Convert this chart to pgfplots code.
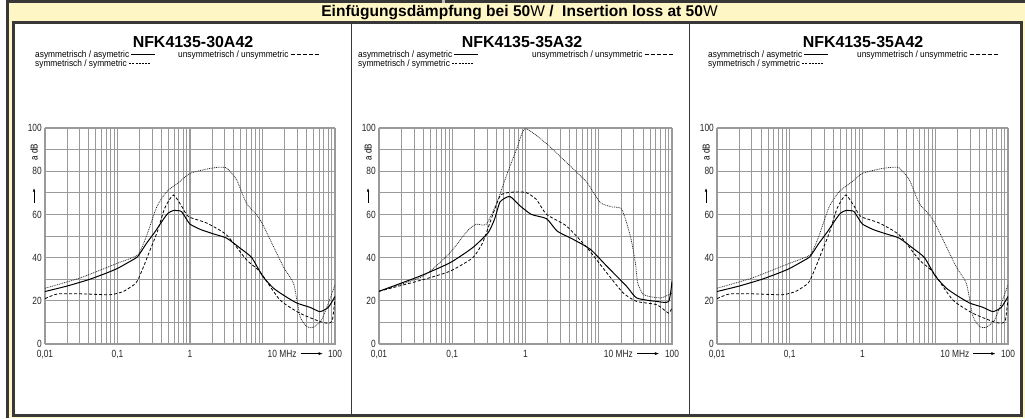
\documentclass[border=0pt]{standalone}
\usepackage{fontspec}
\setmainfont{Liberation Sans}
\newfontfamily\narrow[FakeStretch=0.8]{Liberation Sans}
\newfontfamily\semnarrow[FakeStretch=0.9]{Liberation Sans}
\usepackage{pgfplots}
\pgfplotsset{compat=1.18}
\usepackage{pgfplotstable}
\usetikzlibrary{arrows.meta}

\definecolor{frame}{HTML}{383838}
\definecolor{band}{HTML}{FFF6C6}
\definecolor{gridgray}{HTML}{9A9A9A}

% panel 1 and 3 (same filter curves)
\pgfplotstableread{
f a
0.01 24.3
0.02 26.8
0.04 29.8
0.07 32.8
0.1 35
0.15 38.3
0.19 40.5
0.25 46.5
0.33 52
0.43 57.8
0.5 60.6
0.59 61.8
0.75 61.5
0.85 59
1.0 55.5
1.4 53
2.1 51
3.2 49
4.9 44.4
7.1 40
10 31.5
14 26
19.3 22.7
29.5 19
45 17
62 15
81 17
100 22
}\asymA
\pgfplotstableread{
f a
0.01 21
0.015 23.2
0.034 23.2
0.079 22.8
0.12 24.3
0.17 27.5
0.19 29.5
0.23 36
0.27 42
0.35 51.5
0.45 63
0.59 69
0.77 63.7
0.95 59
1.7 56
3.2 50.5
6 39
9.2 33.5
17.4 20.4
33 14.2
62 10.4
81 9.6
92 11
100 21
}\unsymA
\pgfplotstableread{
f a
0.01 25.8
0.03 30.5
0.1 37.4
0.19 41.3
0.25 49.8
0.35 63.7
0.48 70.6
0.73 75.3
1.0 79
1.7 81
2.5 81.8
3.2 81.5
4.4 76
6 65.2
8.3 59.8
10.2 55
19.3 35.9
26.8 28
33 12.7
41 8
50 7.7
65 11
81 18.9
100 27.4
}\symA
% panel 2
\pgfplotstableread{
f a
0.01 24.4
0.036 31.4
0.093 37.6
0.19 44.6
0.31 51.6
0.38 58
0.45 65.8
0.61 68.3
0.84 64
1.2 60
1.94 58
2.7 52.3
4.5 48.4
7.7 43.8
12.9 36
24 26.7
33 21.3
62 19.7
90 19.7
100 29
}\asymB
\pgfplotstableread{
f a
0.01 24.4
0.04 29.8
0.093 33.7
0.19 39.9
0.26 46.9
0.34 57.8
0.45 68.6
0.61 70.2
1.0 70.2
1.4 67
1.94 60
3.6 54.7
6.9 44.6
12.9 32.9
21.6 23.6
33 19.7
62 18.2
90 14.3
100 17
}\unsymB
\pgfplotstableread{
f a
0.01 24.4
0.04 31.4
0.093 42.2
0.16 52.3
0.21 55.4
0.29 55.4
0.4 64.8
0.55 78
0.76 90.4
0.99 99.7
1.94 92.7
4.5 81
6.9 74.8
10.5 65.5
15 63.5
20.6 62.4
27 50
31.6 37.6
34 28.3
41 22.8
69 21.3
90 22.8
100 23.6
}\symB

\newcommand\leg{\semnarrow\fontsize{9.3}{10}\selectfont}
\newcommand\tickfont{\narrow\fontsize{10.5}{11}\selectfont}

\pgfplotsset{/pgf/number format/assume math mode=true}
\pgfplotsset{
  every axis/.append style={
    scale only axis, anchor=south west, height=216bp,
    xmin=0.01, xmax=100, ymin=0, ymax=100,
    xtick={0.01,0.1,1,10,100},
    xticklabels={{0,01},{0,1},1,,100},
    minor xtick={0.02,0.03,0.04,0.05,0.06,0.07,0.08,0.09,0.2,0.3,0.4,0.5,0.6,0.7,0.8,0.9,2,3,4,5,6,7,8,9,20,30,40,50,60,70,80,90},
    ytick={0,20,40,60,80,100},
    minor ytick={10,30,50,70,90},
    grid=both,
    major grid style={gridgray, line width=1.2bp},
    minor grid style={gridgray, line width=0.6bp},
    axis line style={gridgray, line width=0.8bp},
    tick style={draw=none},
    tick label style={font=\tickfont, text=black!85},
    xticklabel style={anchor=base, yshift=-13bp, inner sep=0pt},
    yticklabel style={anchor=east, xshift=-3bp, inner sep=0pt},
  },
}
\tikzset{
  curveasym/.style={black, line width=1bp, smooth, tension=0.35},
  curveunsym/.style={black, line width=0.8bp, dash pattern=on 3bp off 2bp, smooth, tension=0.35},
  curvesym/.style={black!85, line width=0.75bp, dash pattern=on 0.9bp off 0.9bp, smooth, tension=0.35},
}

\begin{document}
\begin{tikzpicture}
\begin{scope}[x=1bp,y=1bp]
\path[use as bounding box] (0,0) rectangle (1025,418);
\fill[white] (0,0) rectangle (1025,418);
\fill[band] (9,0) rectangle (1025,415);
\fill[frame] (6,415) rectangle (1025,418);
\fill[black!25] (442,415) rectangle (445,418);
\fill[frame] (6,0) rectangle (9,418);
\filldraw[fill=white, draw=frame, line width=3bp] (13.5,2.5) rectangle (1021,395.7);
\draw[frame, line width=1.5bp] (351.5,2.5) -- (351.5,395.7);
\draw[frame, line width=1.5bp] (689.5,2.5) -- (689.5,395.7);

\node[anchor=base, inner sep=0pt, font=\fontsize{15.6}{16}\selectfont\bfseries]
  at (519.5,401.5) {Einfügungsdämpfung bei 50{\mdseries W}\ /\ \ Insertion loss at 50{\mdseries W}};

% panel titles
\node[anchor=base, inner sep=0pt, font=\fontsize{16}{18}\selectfont\bfseries] at (193,370.5) {NFK4135-30A42};
\node[anchor=base, inner sep=0pt, font=\fontsize{16}{18}\selectfont\bfseries] at (522,370.5) {NFK4135-35A32};
\node[anchor=base, inner sep=0pt, font=\fontsize{16}{18}\selectfont\bfseries] at (863,370.5) {NFK4135-35A42};

% legends
\foreach \a/\u in {35/178, 358/532, 708/857} {
  \node[anchor=base west, inner sep=0pt, font=\leg] (ta) at (\a,360.5) {asymmetrisch / asymetric};
  \draw[line width=0.8bp] ([xshift=2bp]ta.base east) ++(0,3) -- ++(24,0);
  \node[anchor=base west, inner sep=0pt, font=\leg] (tu) at (\u,360.5) {unsymmetrisch / unsymmetric};
  \draw[line width=0.8bp, dash pattern=on 4bp off 2bp] ([xshift=2bp]tu.base east) ++(0,3) -- ++(28,0);
  \node[anchor=base west, inner sep=0pt, font=\leg] (ts) at (\a,351.5) {symmetrisch / symmetric};
  \draw[line width=0.7bp, dash pattern=on 2bp off 1.2bp] ([xshift=2bp]ts.base east) ++(0,3) -- ++(22,0);
}

% axis captions
\foreach \L/\W in {45/290, 379/293, 717/291} {
  \node[rotate=90, inner sep=0pt, font=\narrow\fontsize{10}{10}\selectfont] at (\L-11,266) {a dB};
  \draw[line width=0.6bp, -{Latex[length=3.5bp,width=2.5bp]}] (\L-11,215) -- (\L-11,230);
  \node[anchor=base west, inner sep=0pt, font=\tickfont, text=black!85]
    (mhz) at (\L+0.75*\W+5,61) {10 MHz};
  \draw[line width=0.6bp, -{Latex[length=4bp,width=3bp]}] ([xshift=4bp]mhz.base east) ++(0,3.4) -- ++(22,0);
}
\end{scope}

\begin{semilogxaxis}[at={(45bp,74bp)}, width=290bp]
\addplot[curvesym] table {\symA};
\addplot[curveunsym] table {\unsymA};
\addplot[curveasym] table {\asymA};
\end{semilogxaxis}

\begin{semilogxaxis}[at={(379bp,74bp)}, width=293bp]
\addplot[curvesym] table {\symB};
\addplot[curveunsym] table {\unsymB};
\addplot[curveasym] table {\asymB};
\end{semilogxaxis}

\begin{semilogxaxis}[at={(717bp,74bp)}, width=291bp]
\addplot[curvesym] table {\symA};
\addplot[curveunsym] table {\unsymA};
\addplot[curveasym] table {\asymA};
\end{semilogxaxis}
\end{tikzpicture}
\end{document}
